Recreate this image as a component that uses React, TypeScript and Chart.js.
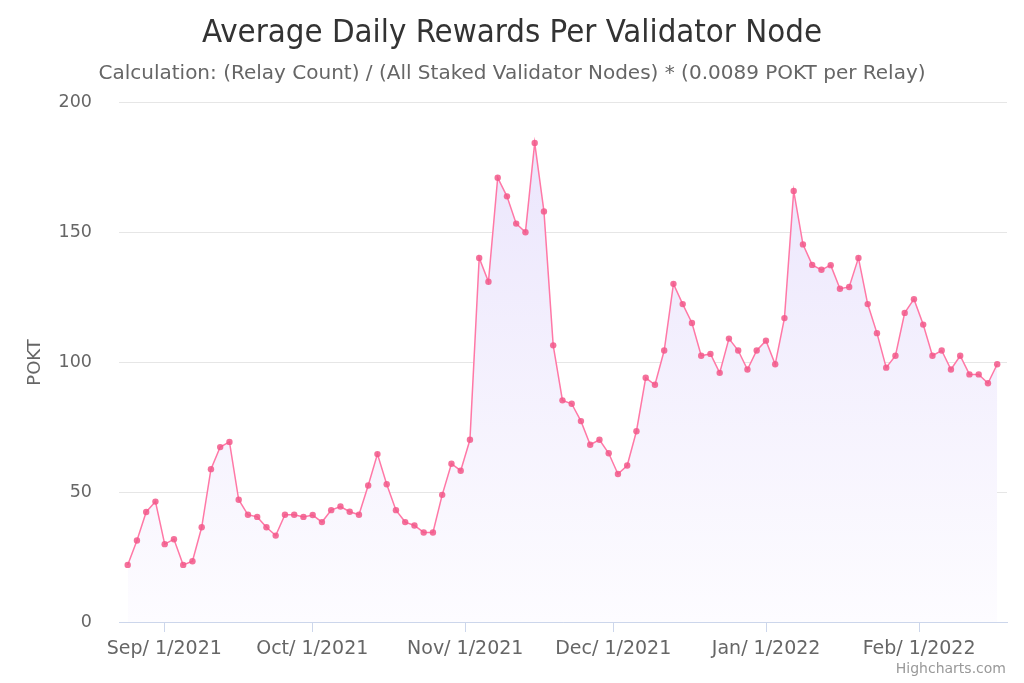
import React, { useEffect, useRef } from "react";
import { Chart, registerables } from "chart.js";

Chart.register(...registerables);

// Average daily rewards (POKT) per validator node, one sample every 45 hours
const rewardValues: number[] = [
  22.0, 31.4, 42.4, 46.4, 30.0, 31.9, 22.0, 23.4, 36.5, 58.9,
  67.4, 69.4, 47.1, 41.3, 40.5, 36.5, 33.3, 41.3, 41.3, 40.5,
  41.2, 38.5, 43.1, 44.5, 42.5, 41.3, 52.6, 64.7, 53.1, 43.1,
  38.5, 37.2, 34.5, 34.5, 49.0, 61.0, 58.3, 70.2, 140.3, 131.1,
  171.2, 164.0, 153.5, 150.2, 184.6, 158.2, 106.6, 85.4, 84.1, 77.4,
  68.3, 70.2, 65.0, 57.0, 60.3, 73.5, 94.1, 91.4, 104.6, 130.3,
  122.5, 115.2, 102.6, 103.3, 96.0, 109.2, 104.6, 97.3, 104.6, 108.4,
  99.3, 117.1, 166.1, 145.5, 137.6, 135.7, 137.5, 128.4, 129.1, 140.3,
  122.5, 111.3, 98.0, 102.6, 119.1, 124.4, 114.6, 102.6, 104.6, 97.3,
  102.6, 95.4, 95.4, 92.0, 99.3,
];

const HOUR = 3600 * 1000;
const DAY = 24 * HOUR;
const seriesStart = Date.UTC(2021, 7, 24, 14, 0);
const seriesInterval = 45 * HOUR;

// Month ticks along the time axis
const tickDates: number[] = [
  Date.UTC(2021, 8, 1),
  Date.UTC(2021, 9, 1),
  Date.UTC(2021, 10, 1),
  Date.UTC(2021, 11, 1),
  Date.UTC(2022, 0, 1),
  Date.UTC(2022, 1, 1),
];
const tickLabels: string[] = [
  "Sep/ 1/2021",
  "Oct/ 1/2021",
  "Nov/ 1/2021",
  "Dec/ 1/2021",
  "Jan/ 1/2022",
  "Feb/ 1/2022",
];
const yTicks: number[] = [0, 50, 100, 150, 200];

const FONT = "'DejaVu Sans', sans-serif";
const TITLE_FONT = "'DejaVu Sans Condensed', 'DejaVu Sans', sans-serif";

const creditsPlugin = {
  id: "credits",
  afterDraw(chart: any) {
    const { ctx } = chart;
    ctx.save();
    ctx.font = `14px ${FONT}`;
    ctx.fillStyle = "#999999";
    ctx.textAlign = "right";
    ctx.textBaseline = "middle";
    ctx.fillText("Highcharts.com", 1006, 669);
    ctx.restore();
  },
};

export default function App() {
  const canvasRef = useRef<HTMLCanvasElement | null>(null);

  useEffect(() => {
    document.body.style.margin = "0";
    const canvas = canvasRef.current;
    if (!canvas) return;

    const points = rewardValues.map((v, i) => ({
      x: seriesStart + i * seriesInterval,
      y: v,
    }));

    const chart = new Chart(canvas, {
      type: "line",
      data: {
        datasets: [
          {
            label: "POKT",
            data: points,
            borderColor: "#ff78a6",
            borderWidth: 1.5,
            pointRadius: 3.2,
            pointHoverRadius: 4,
            pointBackgroundColor: "rgba(242,88,138,0.85)",
            pointBorderWidth: 0,
            tension: 0,
            fill: "origin",
            backgroundColor: (ctx: any) => {
              const area = ctx.chart.chartArea;
              if (!area) return "rgba(240,236,253,1)";
              const g = ctx.chart.ctx.createLinearGradient(0, area.top, 0, area.bottom);
              g.addColorStop(0, "rgba(234,228,252,1)");
              g.addColorStop(1, "rgba(253,252,255,1)");
              return g;
            },
          },
        ],
      },
      options: {
        responsive: false,
        maintainAspectRatio: false,
        animation: false,
        layout: { padding: { left: 17, right: 17, top: 0, bottom: 0 } },
        plugins: {
          legend: { display: false },
          tooltip: { enabled: false },
          title: {
            display: true,
            text: "Average Daily Rewards Per Validator Node",
            color: "#333333",
            font: { family: TITLE_FONT, size: 32.7, weight: "normal" },
            padding: { top: 14, bottom: 4.3 },
          },
          subtitle: {
            display: true,
            text: "Calculation: (Relay Count) / (All Staked Validator Nodes) * (0.0089 POKT per Relay)",
            color: "#666666",
            font: { family: FONT, size: 20, weight: "normal" },
            padding: { top: 4.4, bottom: 17 },
          },
        },
        scales: {
          x: {
            type: "linear",
            min: Date.UTC(2021, 8, 1) - 9.18 * DAY,
            max: Date.UTC(2021, 8, 1) + 170.82 * DAY,
            afterBuildTicks: (scale: any) => {
              scale.ticks = tickDates.map((v) => ({ value: v }));
            },
            afterFit: (scale: any) => {
              scale.height = 61;
            },
            grid: {
              drawOnChartArea: false,
              drawTicks: true,
              tickLength: 10,
              color: "#ccd6eb",
            },
            border: { display: true, color: "#ccd6eb", width: 1 },
            ticks: {
              autoSkip: false,
              maxRotation: 0,
              padding: 6,
              color: "#666666",
              font: { family: FONT, size: 19 },
              callback: (value: any) => {
                const idx = tickDates.indexOf(Number(value));
                return idx >= 0 ? tickLabels[idx] : "";
              },
            },
          },
          y: {
            min: 0,
            max: 200,
            afterBuildTicks: (scale: any) => {
              scale.ticks = yTicks.map((v) => ({ value: v }));
            },
            afterFit: (scale: any) => {
              scale.width = 102;
            },
            grid: { color: "#e6e6e6", drawTicks: false, lineWidth: 1 },
            border: { display: false },
            ticks: {
              padding: 27,
              color: "#666666",
              font: { family: FONT, size: 17.5 },
            },
            title: {
              display: true,
              text: "POKT",
              color: "#666666",
              font: { family: FONT, size: 18 },
              padding: { top: 8, bottom: 0 },
            },
          },
        },
      },
      plugins: [creditsPlugin],
    });

    return () => chart.destroy();
  }, []);

  return <canvas ref={canvasRef} width={1024} height={683} style={{ display: "block" }} />;
}
